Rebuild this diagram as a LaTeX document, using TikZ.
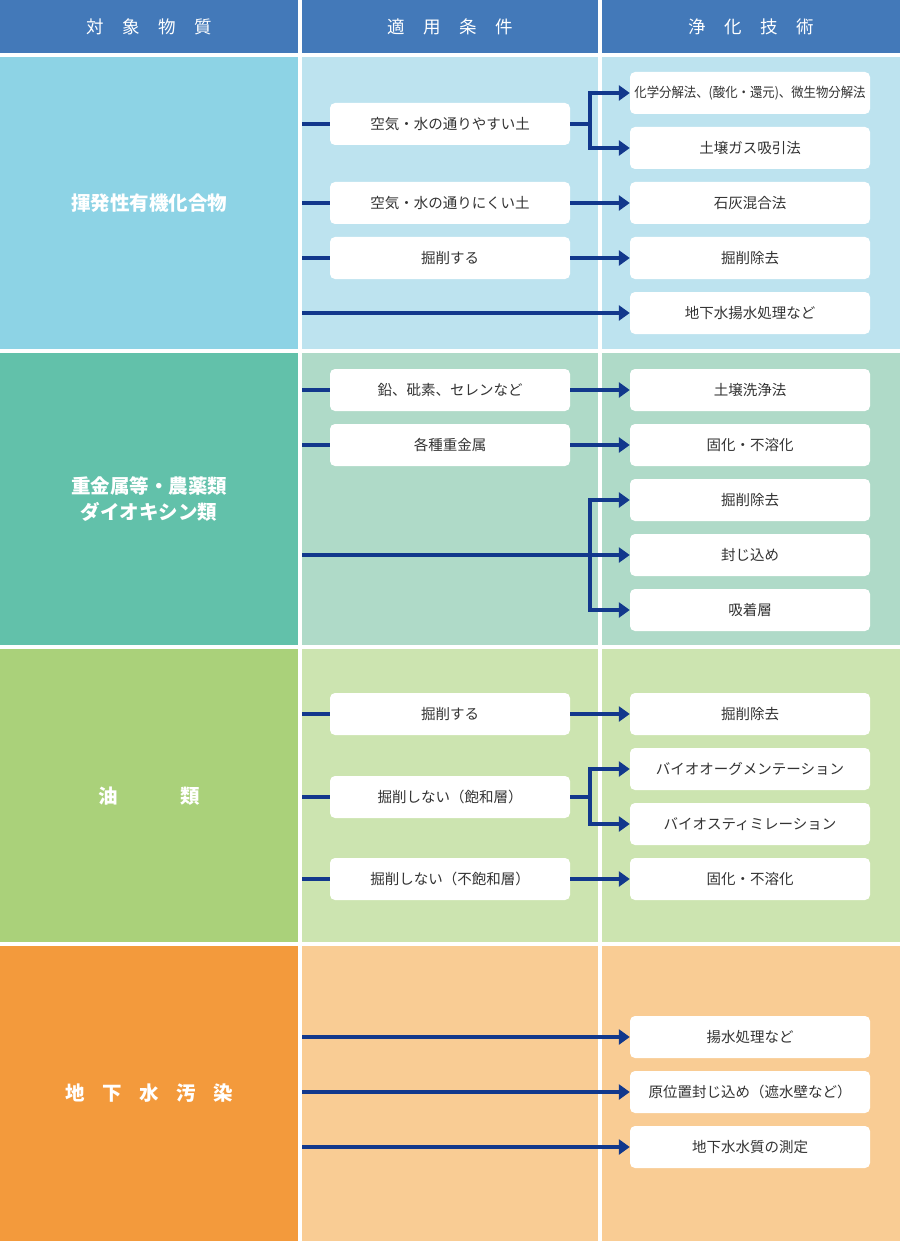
\documentclass[tikz,border=0pt]{standalone}
\usepackage{fontspec}
\usepackage{graphicx}
\setmainfont{Noto Sans CJK JP}
\usetikzlibrary{arrows.meta}
\definecolor{hdr}{HTML}{4379B9}
\definecolor{aL}{HTML}{8DD3E5}\definecolor{aR}{HTML}{BDE3EF}
\definecolor{bL}{HTML}{62C1AA}\definecolor{bR}{HTML}{AFDAC8}
\definecolor{cL}{HTML}{AAD17A}\definecolor{cR}{HTML}{CCE4B0}
\definecolor{dL}{HTML}{F39A3C}\definecolor{dR}{HTML}{F9CC94}
\definecolor{navy}{HTML}{12388C}
\definecolor{txt}{HTML}{333333}
\newcommand\gp{\hspace{1.05em}}
\tikzset{
  box/.style={fill=white, rounded corners=5pt, minimum width=240pt, minimum height=42pt, inner sep=0pt, text=txt, font=\fontsize{14.5}{16}\selectfont},
  lab/.style={text=white, align=center, font=\fontsize{19.5}{26}\selectfont\bfseries},
  hlab/.style={text=white, font=\fontsize{17.5}{20}\selectfont},
  link/.style={navy, line width=4.5pt, line join=miter},
  arr/.style={link, -{Triangle[length=11pt,width=15pt]}},
}
\begin{document}
\begin{tikzpicture}[x=1pt,y=-1pt]
\useasboundingbox (0,0) rectangle (900,1241);
\fill[white] (0,0) rectangle (900,1241);
% header
\fill[hdr] (0,0) rectangle (298,53);
\fill[hdr] (302,0) rectangle (598,53);
\fill[hdr] (602,0) rectangle (900,53);
\node[hlab] (h1) at (149,27) {対\gp 象\gp 物\gp 質};
\node[hlab] (h2) at (450,27) {適\gp 用\gp 条\gp 件};
\node[hlab] (h3) at (751,27) {浄\gp 化\gp 技\gp 術};
% sections
\fill[aL] (0,57) rectangle (298,349);
\fill[aR] (302,57) rectangle (598,349);
\fill[aR] (602,57) rectangle (900,349);
\fill[bL] (0,353) rectangle (298,645);
\fill[bR] (302,353) rectangle (598,645);
\fill[bR] (602,353) rectangle (900,645);
\fill[cL] (0,649) rectangle (298,942);
\fill[cR] (302,649) rectangle (598,942);
\fill[cR] (602,649) rectangle (900,942);
\fill[dL] (0,946) rectangle (298,1241);
\fill[dR] (302,946) rectangle (598,1241);
\fill[dR] (602,946) rectangle (900,1241);
% left labels
\node[lab] (L1) at (149,203) {揮発性有機化合物};
\node[lab] (L2) at (149,499) {重金属等・農薬類\\ダイオキシン類};
\node[lab] (L3) at (149,796) {油\hspace{3.2em}類};
\node[lab] (L4) at (149,1093) {地\hspace{0.9em}下\hspace{0.9em}水\hspace{0.9em}汚\hspace{0.9em}染};

% ---- section 1
\node[box] (c11) at (450,124) {空気・水の通りやすい土};
\node[box] (c12) at (450,203) {空気・水の通りにくい土};
\node[box] (c13) at (450,258) {掘削する};
\node[box,font=\fontsize{13.6}{15}\selectfont] (t11) at (750,93) {\scalebox{0.91}[1]{化学分解法、(酸化・還元)、微生物分解法}};
\node[box] (t12) at (750,148) {土壌ガス吸引法};
\node[box] (t13) at (750,203) {石灰混合法};
\node[box] (t14) at (750,258) {掘削除去};
\node[box] (t15) at (750,313) {地下水揚水処理など};
\coordinate (s11) at (302,124);
\coordinate (s12) at (302,203);
\coordinate (s13) at (302,258);
\coordinate (s14) at (302,313);
\coordinate (b11) at (590,124);
\draw[link] (s11) -- (c11.west);
\draw[link] (s12) -- (c12.west);
\draw[link] (s13) -- (c13.west);
\draw[arr] (c11.east) -- (b11) |- (t11.west);
\draw[arr] (b11) |- (t12.west);
\draw[arr] (c12.east) -- (t13.west);
\draw[arr] (c13.east) -- (t14.west);
\draw[arr] (s14) -- (t15.west);

% ---- section 2
\node[box] (c21) at (450,390) {鉛、砒素、セレンなど};
\node[box] (c22) at (450,445) {各種重金属};
\node[box] (t21) at (750,390) {土壌洗浄法};
\node[box] (t22) at (750,445) {固化・不溶化};
\node[box] (t23) at (750,500) {掘削除去};
\node[box] (t24) at (750,555) {封じ込め};
\node[box] (t25) at (750,610) {吸着層};
\coordinate (s21) at (302,390);
\coordinate (s22) at (302,445);
\coordinate (s23) at (302,555);
\coordinate (b21) at (590,555);
\draw[link] (s21) -- (c21.west);
\draw[link] (s22) -- (c22.west);
\draw[arr] (c21.east) -- (t21.west);
\draw[arr] (c22.east) -- (t22.west);
\draw[arr] (s23) -- (t24.west);
\draw[arr] (b21) |- (t23.west);
\draw[arr] (b21) |- (t25.west);

% ---- section 3
\node[box] (c31) at (450,714) {掘削する};
\node[box] (c32) at (450,797) {掘削しない（飽和層）};
\node[box] (c33) at (450,879) {掘削しない（不飽和層）};
\node[box] (t31) at (750,714) {掘削除去};
\node[box] (t32) at (750,769) {バイオオーグメンテーション};
\node[box] (t33) at (750,824) {バイオスティミレーション};
\node[box] (t34) at (750,879) {固化・不溶化};
\coordinate (s31) at (302,714);
\coordinate (s32) at (302,797);
\coordinate (s33) at (302,879);
\coordinate (b31) at (590,797);
\draw[link] (s31) -- (c31.west);
\draw[link] (s32) -- (c32.west);
\draw[link] (s33) -- (c33.west);
\draw[arr] (c31.east) -- (t31.west);
\draw[arr] (c32.east) -- (b31) |- (t32.west);
\draw[arr] (b31) |- (t33.west);
\draw[arr] (c33.east) -- (t34.west);

% ---- section 4
\node[box] (t41) at (750,1037) {揚水処理など};
\node[box] (t42) at (750,1092) {原位置封じ込め（遮水壁など）};
\node[box] (t43) at (750,1147) {地下水水質の測定};
\coordinate (s41) at (302,1037);
\coordinate (s42) at (302,1092);
\coordinate (s43) at (302,1147);
\draw[arr] (s41) -- (t41.west);
\draw[arr] (s42) -- (t42.west);
\draw[arr] (s43) -- (t43.west);
\end{tikzpicture}
\end{document}
